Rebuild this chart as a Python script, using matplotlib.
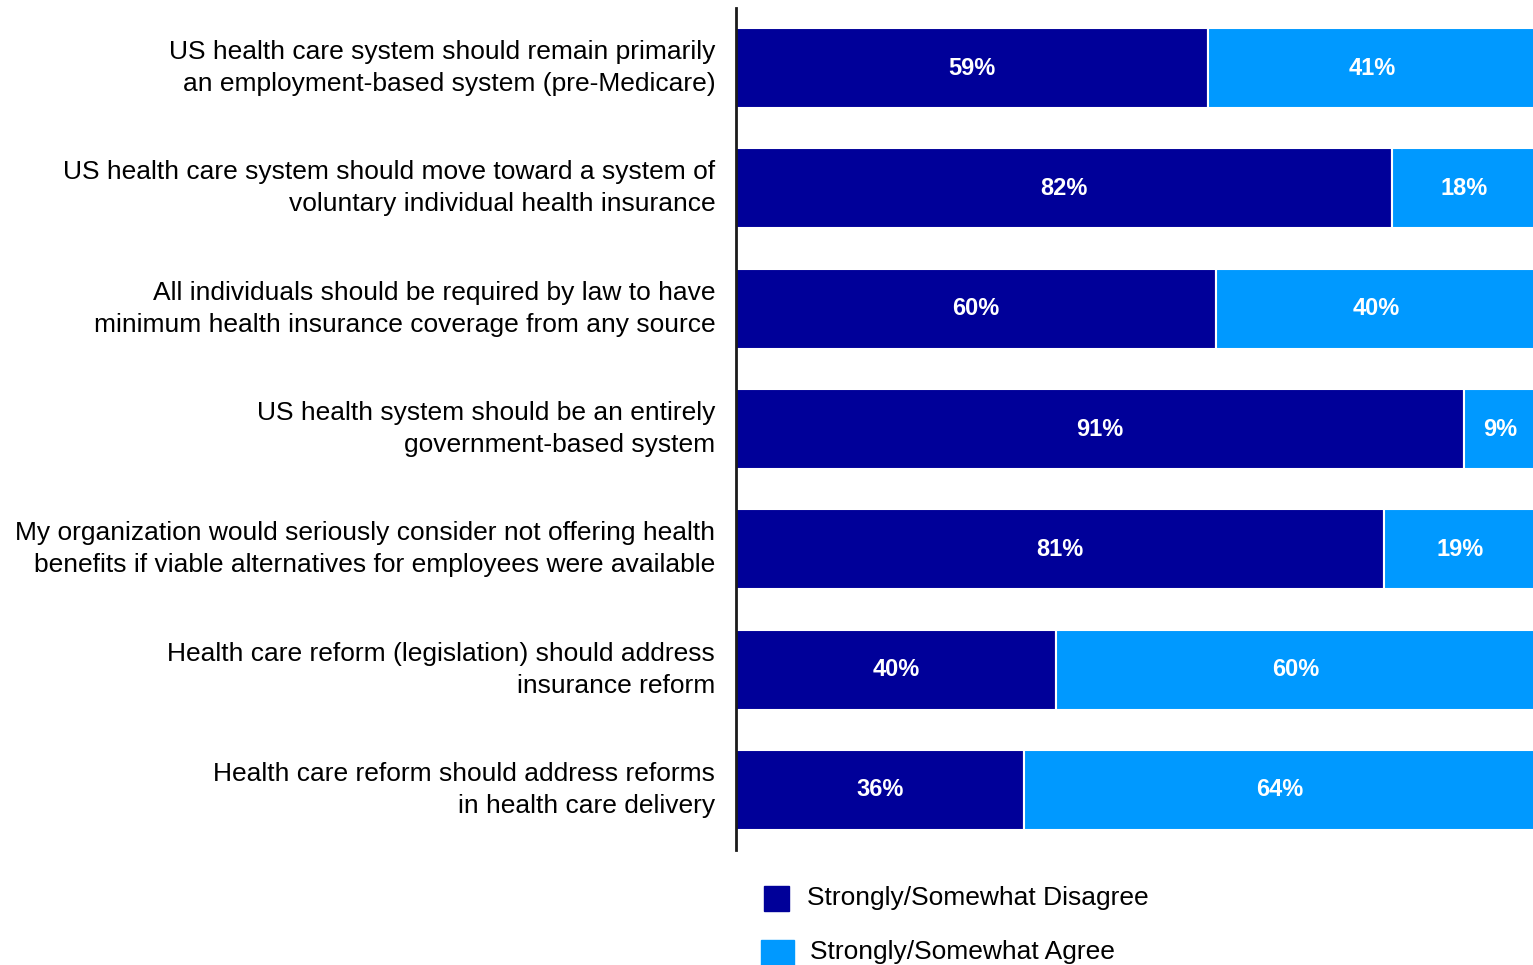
import matplotlib
matplotlib.use("Agg")
import matplotlib.pyplot as plt
from matplotlib.patches import Rectangle

plt.rcParams['font.family'] = ['Liberation Sans', 'DejaVu Sans']

categories = [
    "US health care system should remain primarily\nan employment-based system (pre-Medicare)",
    "US health care system should move toward a system of\nvoluntary individual health insurance",
    "All individuals should be required by law to have\nminimum health insurance coverage from any source",
    "US health system should be an entirely\ngovernment-based system",
    "My organization would seriously consider not offering health\nbenefits if viable alternatives for employees were available",
    "Health care reform (legislation) should address\ninsurance reform",
    "Health care reform should address reforms\nin health care delivery",
]
disagree = [59, 82, 60, 91, 81, 40, 36]
agree = [41, 18, 40, 9, 19, 60, 64]
series_names = ["Strongly/Somewhat Disagree", "Strongly/Somewhat Agree"]
colors = ["#000099", "#0099FF"]

W, H = 1533, 965
fig = plt.figure(figsize=(W / 100, H / 100), dpi=100)
ax = fig.add_axes([736 / W, 1 - 850 / H, 1 - 736 / W + 0.002, 842 / H])

y = list(range(len(categories)))
b1 = ax.barh(y, disagree, height=0.665, color=colors[0], edgecolor="white", linewidth=1.5)
b2 = ax.barh(y, agree, left=disagree, height=0.665, color=colors[1], edgecolor="white", linewidth=1.5)

for bars, vals in ((b1, disagree), (b2, agree)):
    for rect, v in zip(bars, vals):
        cx = rect.get_x() + rect.get_width() / 2
        cy = rect.get_y() + rect.get_height() / 2
        ax.text(cx, cy, f"{v}%", ha="center", va="center", color="white",
                fontsize=17, fontweight="bold")

ax.set_xlim(0, 100)
ax.set_ylim(len(categories) - 0.5, -0.5)
ax.set_yticks(y)
ax.set_yticklabels(categories, fontsize=19, linespacing=1.42, va="center")
ax.tick_params(axis="y", length=0, pad=15)
ax.set_xticks([])
for s in ("top", "right", "bottom"):
    ax.spines[s].set_visible(False)
ax.spines["left"].set_linewidth(2)
ax.spines["left"].set_color("#1a1a1a")

# legend
leg = [(764, 886, 25, 25, 807, 898), (761, 940, 33, 30, 810, 952)]
for (x0, y0, w, h, tx, ty), name, c in zip(leg, series_names, colors):
    fig.add_artist(Rectangle((x0 / W, 1 - (y0 + h) / H), w / W, h / H,
                             transform=fig.transFigure, color=c, clip_on=False))
    fig.text(tx / W, 1 - ty / H, name, ha="left", va="center", fontsize=19)

fig.savefig("out.png", dpi=100)
